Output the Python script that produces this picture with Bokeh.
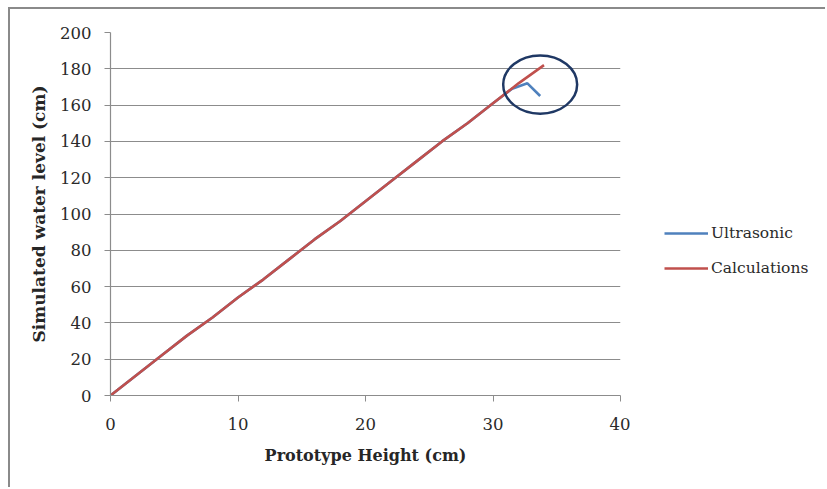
from bokeh.plotting import figure
from bokeh.layouts import row
from bokeh.models import Legend, LegendItem, Range1d, FixedTicker, Ellipse, ColumnDataSource
from bokeh.embed import file_html
from bokeh.resources import INLINE

# Data
calc_x = [0, 2, 4, 6, 8, 10, 12, 14, 16, 18, 20, 22, 24, 26, 28, 30, 32, 34]
calc_y = [0, 11, 22, 33, 43, 54, 64, 75, 86, 96, 107, 118, 129, 140, 150, 161, 172, 182]
ultra_x = [0, 2, 4, 6, 8, 10, 12, 14, 16, 18, 20, 22, 24, 26, 28, 30, 31.5, 32.7, 33.7]
ultra_y = [0, 11, 22, 33, 43, 54, 64, 75, 86, 96, 107, 118, 129, 140, 150, 161, 169, 172, 165]
x_ticks = [0, 10, 20, 30, 40]
y_ticks = [0, 20, 40, 60, 80, 100, 120, 140, 160, 180, 200]
series_names = ["Ultrasonic", "Calculations"]
series_colors = ["#4F81BD", "#C0504D"]
highlight_center = (33.7, 171.3)
highlight_size = (5.8, 32)

FONT = "DejaVu Serif"

p = figure(width=622, height=480, output_backend="svg", toolbar_location=None,
           x_range=Range1d(0, 40), y_range=Range1d(0, 200),
           min_border_left=100, min_border_right=12, min_border_top=23, min_border_bottom=94)
p.styles = {"margin-left": "8px", "margin-top": "7px",
            "border-left": "2px solid #8a8a8a", "border-top": "2px solid #8a8a8a"}
p.outline_line_color = None
p.background_fill_color = "white"
p.border_fill_color = "white"

p.xgrid.grid_line_color = None
p.ygrid.grid_line_color = "#8c8c8c"
p.ygrid.grid_line_width = 1.2
p.xaxis.ticker = FixedTicker(ticks=x_ticks)
p.yaxis.ticker = FixedTicker(ticks=y_ticks)

for ax in (p.xaxis, p.yaxis):
    ax.axis_line_color = "#8c8c8c"
    ax.axis_line_width = 1.2
    ax.major_tick_line_color = "#8c8c8c"
    ax.minor_tick_line_color = None
    ax.major_tick_in = 0
    ax.major_tick_out = 6
    ax.major_label_text_font = FONT
    ax.major_label_text_font_size = "16.5px"
    ax.major_label_text_color = "#2a2a2a"
    ax.axis_label_text_font = FONT
    ax.axis_label_text_font_style = "bold"
    ax.axis_label_text_color = "#262626"

p.xaxis.axis_label = "Prototype Height (cm)"
p.yaxis.axis_label = "Simulated water level (cm)"
p.xaxis.axis_label_text_font_size = "16px"
p.yaxis.axis_label_text_font_size = "17px"
p.xaxis.major_label_standoff = 16
p.yaxis.major_label_standoff = 13
p.xaxis.axis_label_standoff = 13
p.yaxis.axis_label_standoff = 8

p.line(ultra_x, ultra_y, line_color=series_colors[0], line_width=2.6)
p.line(calc_x, calc_y, line_color=series_colors[1], line_width=2.6)

src = ColumnDataSource(dict(x=[highlight_center[0]], y=[highlight_center[1]],
                            w=[highlight_size[0]], h=[highlight_size[1]]))
p.add_glyph(src, Ellipse(x="x", y="y", width="w", height="h", fill_color=None,
                         line_color="#1F3864", line_width=2.5))

# Legend panel (separate figure so the legend is not clipped by the plot frame)
pl = figure(width=195, height=480, output_backend="svg", toolbar_location=None,
            x_range=Range1d(-10, -9), y_range=Range1d(-10, -9),
            min_border_left=0, min_border_right=0, min_border_top=0, min_border_bottom=0)
pl.styles = {"margin-top": "7px", "border-top": "2px solid #8a8a8a"}
pl.axis.visible = False
pl.grid.grid_line_color = None
pl.outline_line_color = None
pl.background_fill_color = "white"
pl.border_fill_color = "white"
lu = pl.line(ultra_x, ultra_y, line_color=series_colors[0], line_width=2.6)
lc = pl.line(calc_x, calc_y, line_color=series_colors[1], line_width=2.6)

legend = Legend(items=[LegendItem(label=series_names[0], renderers=[lu]),
                       LegendItem(label=series_names[1], renderers=[lc])],
                location=(34, 117), orientation="vertical")
legend.label_text_font = FONT
legend.label_text_font_size = "15.5px"
legend.label_text_color = "#2a2a2a"
legend.glyph_width = 44
legend.glyph_height = 20
legend.spacing = 15
legend.label_standoff = 3
legend.padding = 0
legend.margin = 0
legend.border_line_color = None
legend.background_fill_alpha = 0
pl.add_layout(legend, "center")

layout = row(p, pl)
open("out.html", "w").write(file_html(layout, INLINE))
